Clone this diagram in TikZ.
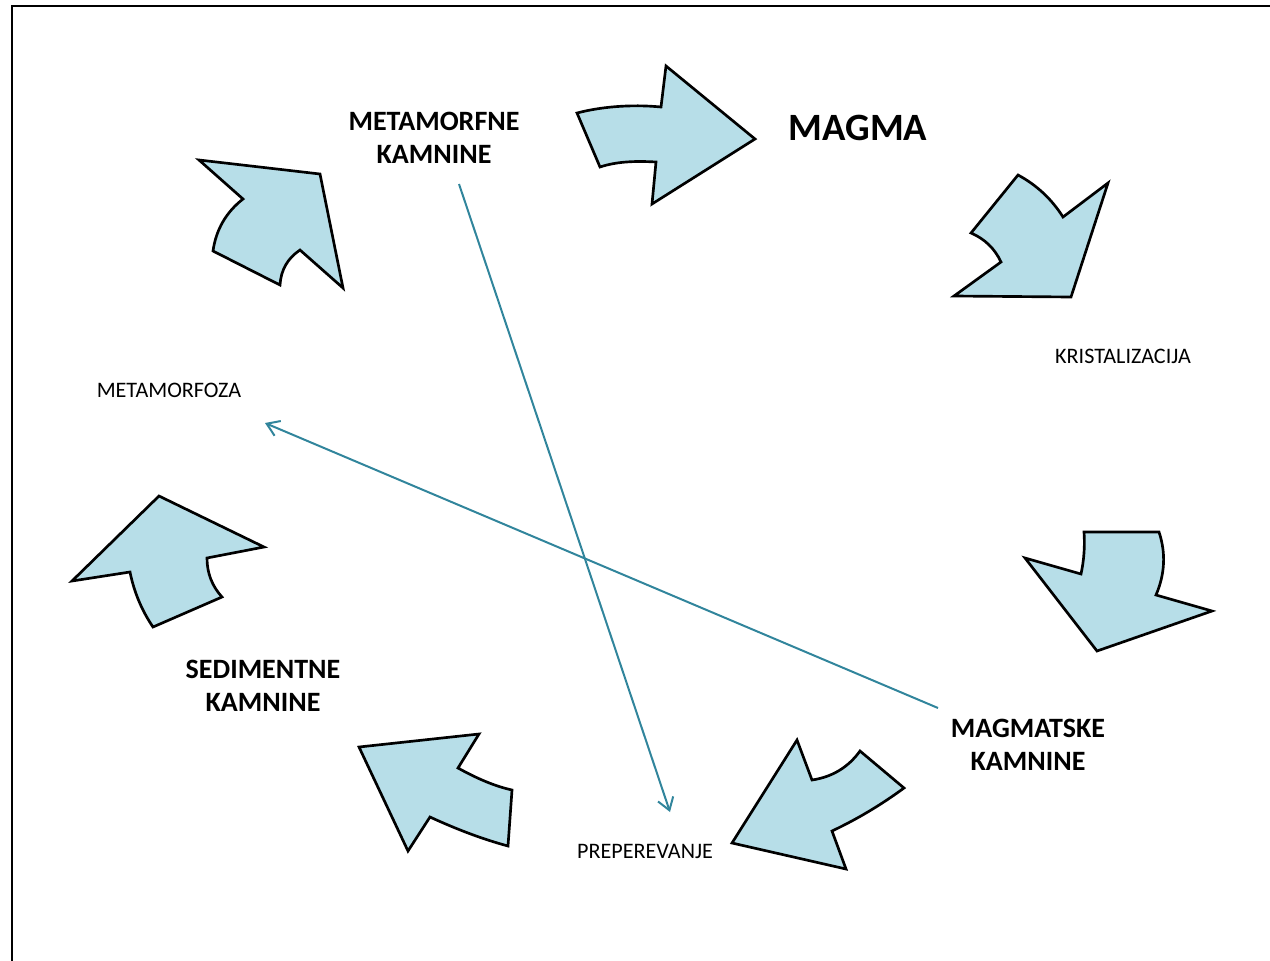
\documentclass[tikz,border=0pt]{standalone}
\usepackage{fontspec}
\setmainfont{Carlito}
\usetikzlibrary{arrows.meta}
\definecolor{arrowfill}{HTML}{B7DEE8}
\definecolor{linkblue}{HTML}{31859C}
\tikzset{
  bigarrow/.style={draw=black, fill=arrowfill, line width=2pt, line join=miter},
  titletext/.style={font=\fontsize{21}{24.75}\selectfont\bfseries, align=center, inner sep=0pt},
  smalltext/.style={font=\fontsize{16.6}{18}\selectfont, inner sep=0pt},
  link/.style={draw=linkblue, line width=1.5pt, -{Straight Barb[length=9pt,width=12pt,line width=1.5pt]}}
}
\begin{document}
\begin{tikzpicture}[x=0.75pt,y=-0.75pt]
\useasboundingbox (0,0) rectangle (1270,960);
\begin{scope}
\clip (0,0) rectangle (1270,960);
\draw[line width=1.6pt] (12,970) -- (12,6) -- (1280,6);
\end{scope}

% block arrows
\draw[bigarrow] (577,113) .. controls (600,107) and (630,104) .. (661,107) -- (666,66) -- (755,139) -- (652,204) -- (656,162) .. controls (638,161) and (618,161) .. (600,167) -- cycle;
\draw[bigarrow] (1018,175) .. controls (1036.6,185) and (1051.6,199) .. (1063,217) -- (1108,183) -- (1071,297) -- (954,296) -- (1001,262) .. controls (994.7,248.5) and (984.7,238.9) .. (971,233) -- cycle;
\draw[bigarrow] (1084,532) -- (1159,532) .. controls (1166,553) and (1165,574) .. (1156,595) -- (1212,611) -- (1097,651) -- (1025,558) -- (1081,574) .. controls (1084,560) and (1085,546) .. cycle;
\draw[bigarrow] (797,740) -- (812,780) .. controls (832,777) and (848,767.6) .. (860,751) -- (904,788) .. controls (881.4,804.6) and (857.4,819) .. (832,831) -- (846,869) -- (732,843) -- cycle;
\draw[bigarrow] (359,747) -- (479,734) -- (458,768) .. controls (476,778) and (494,786) .. (512,790) -- (508,846) .. controls (482,839) and (456,829) .. (430,817) -- (408,851) -- cycle;
\draw[bigarrow] (159,496) -- (264,547) -- (207,558) .. controls (207,573) and (212,586) .. (222,597) -- (153,627) .. controls (141.6,610.2) and (134,591.8) .. (130,572) -- (72,581) -- cycle;
\draw[bigarrow] (199,160) -- (320,174) -- (343,288) -- (300,250) .. controls (287.5,258.4) and (280.9,270) .. (280,285) -- (213,251) .. controls (216,229.7) and (226,212.3) .. (243,199) -- cycle;

% texts
\node[titletext] (meta) at (434,138) {METAMORFNE\\KAMNINE};
\node[font=\fontsize{29}{34}\selectfont\bfseries, inner sep=0pt] (magma) at (858,128) {MAGMA};
\node[smalltext] (krist) at (1123,356) {KRISTALIZACIJA};
\node[smalltext] (metaf) at (169,390) {METAMORFOZA};
\node[smalltext] (prep) at (645,851) {PREPEREVANJE};
\node[titletext] (sed) at (263,686) {SEDIMENTNE\\KAMNINE};
\node[titletext] (mag) at (1028,745) {MAGMATSKE\\KAMNINE};

% connectors
\coordinate (c1) at (459,184);
\coordinate (c2) at (670,812);
\coordinate (c3) at (938,708);
\coordinate (c4) at (265,423);
\draw[link] (c1) -- (c2);
\draw[link] (c3) -- (c4);
\end{tikzpicture}
\end{document}
